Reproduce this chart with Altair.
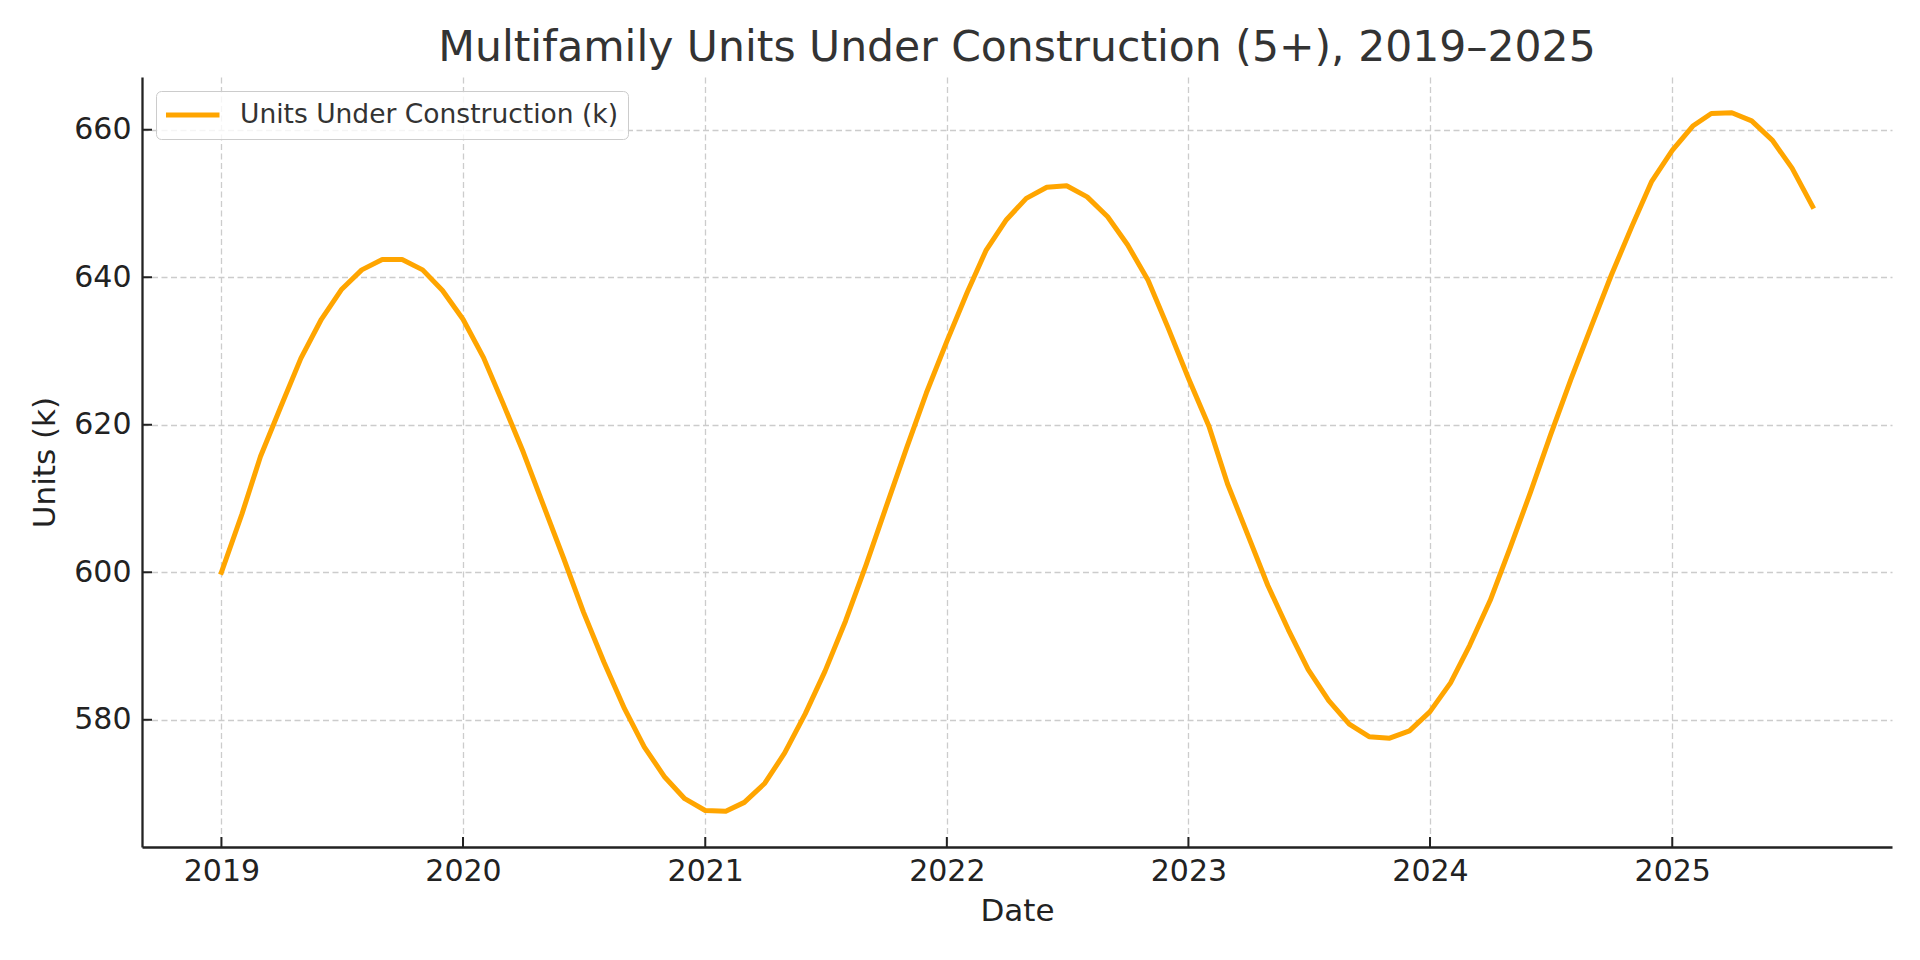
import altair as alt
import pandas as pd

# ---- data ----
months = pd.date_range("2019-01-01", periods=80, freq="MS").strftime("%Y-%m-%d").tolist()
units = [
    600.0, 607.9, 615.7, 622.5, 629.0, 634.3, 638.3, 641.0, 642.4, 642.4, 641.0, 638.2,
    634.3, 629.1, 623.0, 616.3, 609.2, 601.9, 594.6, 587.8, 581.5, 576.3, 572.2, 569.3,
    567.7, 567.6, 568.8, 571.4, 575.5, 580.8, 586.6, 593.4, 601.0, 608.8, 616.8, 624.3,
    631.3, 638.0, 643.6, 647.8, 650.7, 652.2, 652.4, 650.9, 648.2, 644.4, 639.6, 633.2,
    626.3, 619.8, 612.0, 605.0, 598.2, 592.2, 586.8, 582.6, 579.4, 577.7, 577.5, 578.5,
    581.1, 585.0, 590.1, 596.2, 603.3, 610.9, 618.6, 626.2, 633.4, 640.3, 646.9, 653.0,
    657.2, 660.5, 662.2, 662.3, 661.2, 658.6, 654.8, 649.6,
]
series_name = "Units Under Construction (k)"
tick_years = [2019, 2020, 2021, 2022, 2023, 2024, 2025]
y_ticks = [580, 600, 620, 640, 660]
title_text = "Multifamily Units Under Construction (5+), 2019\u20132025"

df = pd.DataFrame({"date": months, "value": units, "series": series_name})
xtick_df = pd.DataFrame({"date": [f"{y}-01-01" for y in tick_years]})
ytick_df = pd.DataFrame({"value": y_ticks})

W, H = 1750, 770
FONT = "DejaVu Sans"

x_scale = alt.Scale(
    type="utc",
    domain=[alt.DateTime(year=2018, month=9, date=3, utc=True),
            alt.DateTime(year=2025, month=11, date=29, utc=True)],
    nice=False,
)
y_scale = alt.Scale(domain=[562.75, 667.15], nice=False, zero=False)

x_axis = alt.Axis(
    title="Date",
    values=[alt.DateTime(year=y, month=1, date=1, utc=True) for y in tick_years],
    format="%Y",
    labelPadding=9,
    titlePadding=10,
)
y_axis = alt.Axis(
    title="Units (k)",
    values=y_ticks,
    labelPadding=11,
    titlePadding=12,
)

x_enc = alt.X("date:T", scale=x_scale, axis=x_axis)
y_enc = alt.Y("value:Q", scale=y_scale, axis=y_axis)

line = alt.Chart(df).mark_line(strokeWidth=5, strokeJoin="round", strokeCap="square").encode(
    x=x_enc,
    y=y_enc,
    color=alt.Color(
        "series:N",
        scale=alt.Scale(domain=[series_name], range=["#FFA500"]),
        legend=alt.Legend(
            title=None,
            orient="top-left",
            offset=14,
            fillColor="rgba(255,255,255,0.8)",
            strokeColor="#cccccc",
            cornerRadius=5,
            padding=10,
            symbolType="stroke",
            symbolSize=3249,
            symbolStrokeWidth=5,
            symbolOffset=-6,
            clipHeight=28,
            labelFont=FONT,
            labelFontSize=26.5,
            labelColor="#333333",
            labelOffset=18,
            labelLimit=0,
        ),
    ),
)

xticks = alt.Chart(xtick_df).mark_rule(color="#222222", strokeWidth=2).encode(
    x=x_enc, y=alt.value(H), y2=alt.value(H - 10)
)
yticks = alt.Chart(ytick_df).mark_rule(color="#222222", strokeWidth=2).encode(
    y=y_enc, x=alt.value(0), x2=alt.value(10)
)

chart = (
    alt.layer(line, xticks, yticks)
    .properties(
        width=W,
        height=H,
        title=alt.TitleParams(
            text=title_text,
            font=FONT,
            fontSize=42.5,
            fontWeight="normal",
            color="#333333",
            anchor="middle",
            frame="group",
            offset=8,
        ),
        autosize=alt.AutoSizeParams(type="none"),
        padding={"left": 134, "top": 69, "right": 20, "bottom": 105},
    )
    .configure_view(stroke=None)
    .configure_axis(
        domainColor="#222222",
        domainWidth=2.3,
        ticks=False,
        tickSize=0,
        labelFont=FONT,
        labelFontSize=30,
        labelColor="#222222",
        titleFont=FONT,
        titleFontSize=31,
        titleFontWeight="normal",
        titleColor="#222222",
        grid=True,
        gridColor="#cccccc",
        gridDash=[6, 3.5],
        gridWidth=1.3,
    )
)

chart.save("out.html", embed_options={"renderer": "svg", "actions": False})
